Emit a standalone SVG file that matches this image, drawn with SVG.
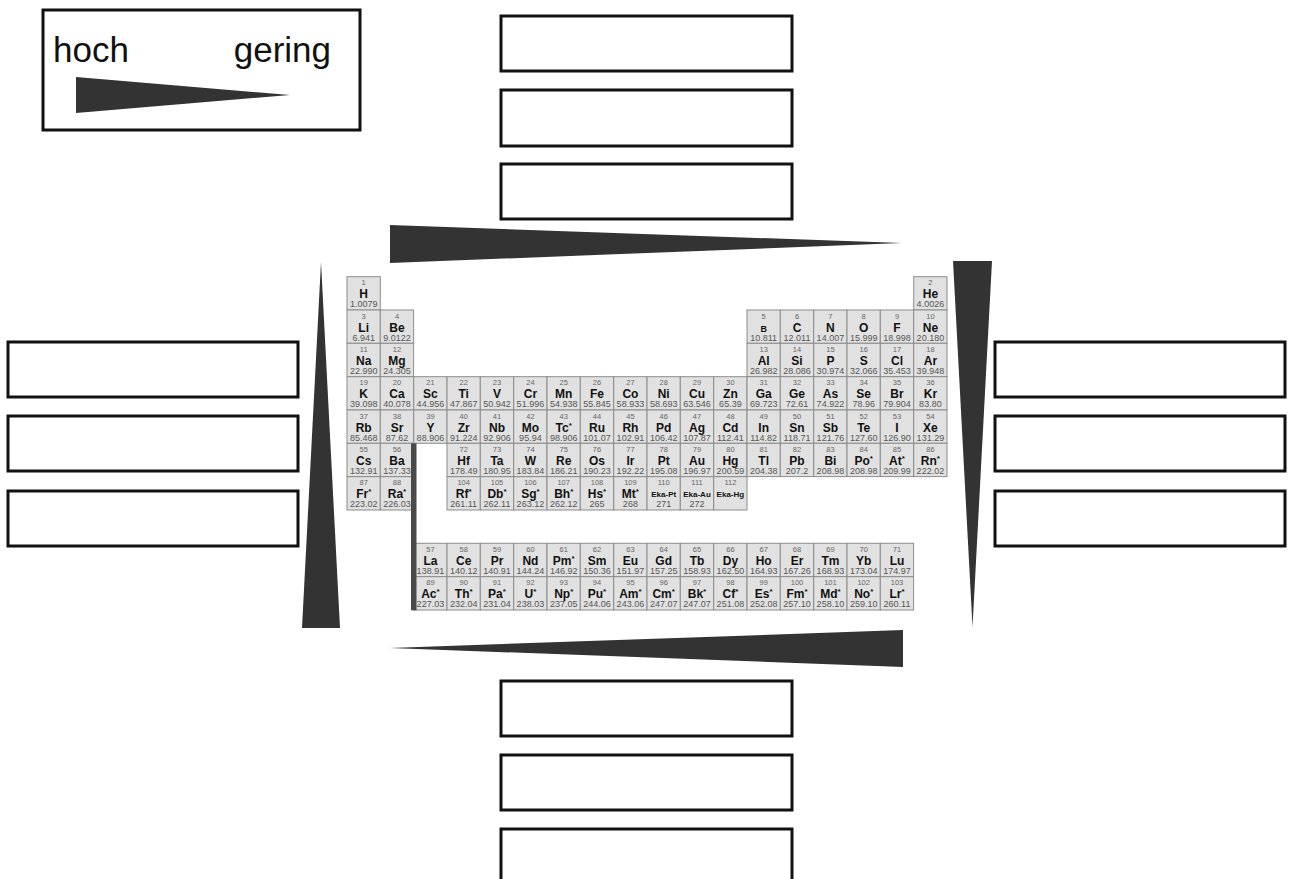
<svg xmlns="http://www.w3.org/2000/svg" width="1294" height="879" viewBox="0 0 1294 879">
<style>
.box{fill:#fff;stroke:#111;stroke-width:3}
.tri{fill:#333}
.lbl{font-family:"Liberation Sans",Arial,sans-serif;font-size:35px;fill:#111}
.c{fill:#e1e1e1;stroke:#8c8c8c;stroke-width:1}
.n{font-family:"Liberation Sans",Arial,sans-serif;font-size:7.5px;fill:#666;text-anchor:middle}
.s{font-family:"Liberation Sans",Arial,sans-serif;font-size:12px;font-weight:bold;fill:#111;text-anchor:middle}
.e{font-family:"Liberation Sans",Arial,sans-serif;font-size:8px;font-weight:bold;fill:#111;text-anchor:middle}
.m{font-family:"Liberation Sans",Arial,sans-serif;font-size:9px;fill:#555;text-anchor:middle}
.st{font-size:8px}
</style>
<defs>
<rect id="cell" class="c" width="33.3" height="33.3"/>
</defs>
<rect width="1294" height="879" fill="#fff"/>

<g id="legend">
<rect class="box" x="43" y="10" width="317" height="120"/>
<text class="lbl" x="53" y="62">hoch</text>
<text class="lbl" x="331" y="62" text-anchor="end">gering</text>
<polygon class="tri" points="76,77 76,113 290,95"/>
</g>

<g id="boxes-top">
<rect class="box" x="501" y="16" width="291" height="55"/>
<rect class="box" x="501" y="90" width="291" height="56"/>
<rect class="box" x="501" y="164" width="291" height="55"/>
</g>
<g id="boxes-bottom">
<rect class="box" x="501" y="681" width="291" height="55"/>
<rect class="box" x="501" y="755" width="291" height="55"/>
<rect class="box" x="501" y="829" width="291" height="60"/>
</g>
<g id="boxes-left">
<rect class="box" x="8" y="342" width="290" height="55"/>
<rect class="box" x="8" y="416" width="290" height="55"/>
<rect class="box" x="8" y="491" width="290" height="55"/>
</g>
<g id="boxes-right">
<rect class="box" x="995" y="342" width="290" height="55"/>
<rect class="box" x="995" y="416" width="290" height="55"/>
<rect class="box" x="995" y="491" width="290" height="55"/>
</g>

<g id="trends">
<polygon class="tri" points="390,225 390,263 902,243"/>
<polygon class="tri" points="390,648 903,630 903,667"/>
<polygon class="tri" points="321,262 302,628 340,628"/>
<polygon class="tri" points="953,261 992,261 972.5,627"/>
</g>

<g id="periodic-table">
<!-- Row 1 -->
<g id="el-1" transform="translate(347,276.7)"><use href="#cell"/><text class="n" x="16.7" y="8.7">1</text><text class="s" x="16.7" y="21.5">H</text><text class="m" x="16.7" y="30.8">1.0079</text></g>
<g id="el-2" transform="translate(913.7,276.7)"><use href="#cell"/><text class="n" x="16.7" y="8.7">2</text><text class="s" x="16.7" y="21.5">He</text><text class="m" x="16.7" y="30.8">4.0026</text></g>
<!-- Row 2 -->
<g id="el-3" transform="translate(347,310)"><use href="#cell"/><text class="n" x="16.7" y="8.7">3</text><text class="s" x="16.7" y="21.5">Li</text><text class="m" x="16.7" y="30.8">6.941</text></g>
<g id="el-4" transform="translate(380.3,310)"><use href="#cell"/><text class="n" x="16.7" y="8.7">4</text><text class="s" x="16.7" y="21.5">Be</text><text class="m" x="16.7" y="30.8">9.0122</text></g>
<g id="el-5" transform="translate(747,310)"><use href="#cell"/><text class="n" x="16.7" y="8.7">5</text><text class="s" x="16.7" y="21.5" style="font-size:9px">B</text><text class="m" x="16.7" y="30.8">10.811</text></g>
<g id="el-6" transform="translate(780.3,310)"><use href="#cell"/><text class="n" x="16.7" y="8.7">6</text><text class="s" x="16.7" y="21.5">C</text><text class="m" x="16.7" y="30.8">12.011</text></g>
<g id="el-7" transform="translate(813.7,310)"><use href="#cell"/><text class="n" x="16.7" y="8.7">7</text><text class="s" x="16.7" y="21.5">N</text><text class="m" x="16.7" y="30.8">14.007</text></g>
<g id="el-8" transform="translate(847,310)"><use href="#cell"/><text class="n" x="16.7" y="8.7">8</text><text class="s" x="16.7" y="21.5">O</text><text class="m" x="16.7" y="30.8">15.999</text></g>
<g id="el-9" transform="translate(880.3,310)"><use href="#cell"/><text class="n" x="16.7" y="8.7">9</text><text class="s" x="16.7" y="21.5">F</text><text class="m" x="16.7" y="30.8">18.998</text></g>
<g id="el-10" transform="translate(913.7,310)"><use href="#cell"/><text class="n" x="16.7" y="8.7">10</text><text class="s" x="16.7" y="21.5">Ne</text><text class="m" x="16.7" y="30.8">20.180</text></g>
<!-- Row 3 -->
<g id="el-11" transform="translate(347,343.3)"><use href="#cell"/><text class="n" x="16.7" y="8.7">11</text><text class="s" x="16.7" y="21.5">Na</text><text class="m" x="16.7" y="30.8">22.990</text></g>
<g id="el-12" transform="translate(380.3,343.3)"><use href="#cell"/><text class="n" x="16.7" y="8.7">12</text><text class="s" x="16.7" y="21.5">Mg</text><text class="m" x="16.7" y="30.8">24.305</text></g>
<g id="el-13" transform="translate(747,343.3)"><use href="#cell"/><text class="n" x="16.7" y="8.7">13</text><text class="s" x="16.7" y="21.5">Al</text><text class="m" x="16.7" y="30.8">26.982</text></g>
<g id="el-14" transform="translate(780.3,343.3)"><use href="#cell"/><text class="n" x="16.7" y="8.7">14</text><text class="s" x="16.7" y="21.5">Si</text><text class="m" x="16.7" y="30.8">28.086</text></g>
<g id="el-15" transform="translate(813.7,343.3)"><use href="#cell"/><text class="n" x="16.7" y="8.7">15</text><text class="s" x="16.7" y="21.5">P</text><text class="m" x="16.7" y="30.8">30.974</text></g>
<g id="el-16" transform="translate(847,343.3)"><use href="#cell"/><text class="n" x="16.7" y="8.7">16</text><text class="s" x="16.7" y="21.5">S</text><text class="m" x="16.7" y="30.8">32.066</text></g>
<g id="el-17" transform="translate(880.3,343.3)"><use href="#cell"/><text class="n" x="16.7" y="8.7">17</text><text class="s" x="16.7" y="21.5">Cl</text><text class="m" x="16.7" y="30.8">35.453</text></g>
<g id="el-18" transform="translate(913.7,343.3)"><use href="#cell"/><text class="n" x="16.7" y="8.7">18</text><text class="s" x="16.7" y="21.5">Ar</text><text class="m" x="16.7" y="30.8">39.948</text></g>
<!-- Row 4 -->
<g id="el-19" transform="translate(347,376.7)"><use href="#cell"/><text class="n" x="16.7" y="8.7">19</text><text class="s" x="16.7" y="21.5">K</text><text class="m" x="16.7" y="30.8">39.098</text></g>
<g id="el-20" transform="translate(380.3,376.7)"><use href="#cell"/><text class="n" x="16.7" y="8.7">20</text><text class="s" x="16.7" y="21.5">Ca</text><text class="m" x="16.7" y="30.8">40.078</text></g>
<g id="el-21" transform="translate(413.7,376.7)"><use href="#cell"/><text class="n" x="16.7" y="8.7">21</text><text class="s" x="16.7" y="21.5">Sc</text><text class="m" x="16.7" y="30.8">44.956</text></g>
<g id="el-22" transform="translate(447,376.7)"><use href="#cell"/><text class="n" x="16.7" y="8.7">22</text><text class="s" x="16.7" y="21.5">Ti</text><text class="m" x="16.7" y="30.8">47.867</text></g>
<g id="el-23" transform="translate(480.3,376.7)"><use href="#cell"/><text class="n" x="16.7" y="8.7">23</text><text class="s" x="16.7" y="21.5">V</text><text class="m" x="16.7" y="30.8">50.942</text></g>
<g id="el-24" transform="translate(513.7,376.7)"><use href="#cell"/><text class="n" x="16.7" y="8.7">24</text><text class="s" x="16.7" y="21.5">Cr</text><text class="m" x="16.7" y="30.8">51.996</text></g>
<g id="el-25" transform="translate(547,376.7)"><use href="#cell"/><text class="n" x="16.7" y="8.7">25</text><text class="s" x="16.7" y="21.5">Mn</text><text class="m" x="16.7" y="30.8">54.938</text></g>
<g id="el-26" transform="translate(580.3,376.7)"><use href="#cell"/><text class="n" x="16.7" y="8.7">26</text><text class="s" x="16.7" y="21.5">Fe</text><text class="m" x="16.7" y="30.8">55.845</text></g>
<g id="el-27" transform="translate(613.7,376.7)"><use href="#cell"/><text class="n" x="16.7" y="8.7">27</text><text class="s" x="16.7" y="21.5">Co</text><text class="m" x="16.7" y="30.8">58.933</text></g>
<g id="el-28" transform="translate(647,376.7)"><use href="#cell"/><text class="n" x="16.7" y="8.7">28</text><text class="s" x="16.7" y="21.5">Ni</text><text class="m" x="16.7" y="30.8">58.693</text></g>
<g id="el-29" transform="translate(680.3,376.7)"><use href="#cell"/><text class="n" x="16.7" y="8.7">29</text><text class="s" x="16.7" y="21.5">Cu</text><text class="m" x="16.7" y="30.8">63.546</text></g>
<g id="el-30" transform="translate(713.7,376.7)"><use href="#cell"/><text class="n" x="16.7" y="8.7">30</text><text class="s" x="16.7" y="21.5">Zn</text><text class="m" x="16.7" y="30.8">65.39</text></g>
<g id="el-31" transform="translate(747,376.7)"><use href="#cell"/><text class="n" x="16.7" y="8.7">31</text><text class="s" x="16.7" y="21.5">Ga</text><text class="m" x="16.7" y="30.8">69.723</text></g>
<g id="el-32" transform="translate(780.3,376.7)"><use href="#cell"/><text class="n" x="16.7" y="8.7">32</text><text class="s" x="16.7" y="21.5">Ge</text><text class="m" x="16.7" y="30.8">72.61</text></g>
<g id="el-33" transform="translate(813.7,376.7)"><use href="#cell"/><text class="n" x="16.7" y="8.7">33</text><text class="s" x="16.7" y="21.5">As</text><text class="m" x="16.7" y="30.8">74.922</text></g>
<g id="el-34" transform="translate(847,376.7)"><use href="#cell"/><text class="n" x="16.7" y="8.7">34</text><text class="s" x="16.7" y="21.5">Se</text><text class="m" x="16.7" y="30.8">78.96</text></g>
<g id="el-35" transform="translate(880.3,376.7)"><use href="#cell"/><text class="n" x="16.7" y="8.7">35</text><text class="s" x="16.7" y="21.5">Br</text><text class="m" x="16.7" y="30.8">79.904</text></g>
<g id="el-36" transform="translate(913.7,376.7)"><use href="#cell"/><text class="n" x="16.7" y="8.7">36</text><text class="s" x="16.7" y="21.5">Kr</text><text class="m" x="16.7" y="30.8">83.80</text></g>
<!-- Row 5 -->
<g id="el-37" transform="translate(347,410)"><use href="#cell"/><text class="n" x="16.7" y="8.7">37</text><text class="s" x="16.7" y="21.5">Rb</text><text class="m" x="16.7" y="30.8">85.468</text></g>
<g id="el-38" transform="translate(380.3,410)"><use href="#cell"/><text class="n" x="16.7" y="8.7">38</text><text class="s" x="16.7" y="21.5">Sr</text><text class="m" x="16.7" y="30.8">87.62</text></g>
<g id="el-39" transform="translate(413.7,410)"><use href="#cell"/><text class="n" x="16.7" y="8.7">39</text><text class="s" x="16.7" y="21.5">Y</text><text class="m" x="16.7" y="30.8">88.906</text></g>
<g id="el-40" transform="translate(447,410)"><use href="#cell"/><text class="n" x="16.7" y="8.7">40</text><text class="s" x="16.7" y="21.5">Zr</text><text class="m" x="16.7" y="30.8">91.224</text></g>
<g id="el-41" transform="translate(480.3,410)"><use href="#cell"/><text class="n" x="16.7" y="8.7">41</text><text class="s" x="16.7" y="21.5">Nb</text><text class="m" x="16.7" y="30.8">92.906</text></g>
<g id="el-42" transform="translate(513.7,410)"><use href="#cell"/><text class="n" x="16.7" y="8.7">42</text><text class="s" x="16.7" y="21.5">Mo</text><text class="m" x="16.7" y="30.8">95.94</text></g>
<g id="el-43" transform="translate(547,410)"><use href="#cell"/><text class="n" x="16.7" y="8.7">43</text><text class="s" x="16.7" y="21.5">Tc<tspan class="st" dy="-4">*</tspan></text><text class="m" x="16.7" y="30.8">98.906</text></g>
<g id="el-44" transform="translate(580.3,410)"><use href="#cell"/><text class="n" x="16.7" y="8.7">44</text><text class="s" x="16.7" y="21.5">Ru</text><text class="m" x="16.7" y="30.8">101.07</text></g>
<g id="el-45" transform="translate(613.7,410)"><use href="#cell"/><text class="n" x="16.7" y="8.7">45</text><text class="s" x="16.7" y="21.5">Rh</text><text class="m" x="16.7" y="30.8">102.91</text></g>
<g id="el-46" transform="translate(647,410)"><use href="#cell"/><text class="n" x="16.7" y="8.7">46</text><text class="s" x="16.7" y="21.5">Pd</text><text class="m" x="16.7" y="30.8">106.42</text></g>
<g id="el-47" transform="translate(680.3,410)"><use href="#cell"/><text class="n" x="16.7" y="8.7">47</text><text class="s" x="16.7" y="21.5">Ag</text><text class="m" x="16.7" y="30.8">107.87</text></g>
<g id="el-48" transform="translate(713.7,410)"><use href="#cell"/><text class="n" x="16.7" y="8.7">48</text><text class="s" x="16.7" y="21.5">Cd</text><text class="m" x="16.7" y="30.8">112.41</text></g>
<g id="el-49" transform="translate(747,410)"><use href="#cell"/><text class="n" x="16.7" y="8.7">49</text><text class="s" x="16.7" y="21.5">In</text><text class="m" x="16.7" y="30.8">114.82</text></g>
<g id="el-50" transform="translate(780.3,410)"><use href="#cell"/><text class="n" x="16.7" y="8.7">50</text><text class="s" x="16.7" y="21.5">Sn</text><text class="m" x="16.7" y="30.8">118.71</text></g>
<g id="el-51" transform="translate(813.7,410)"><use href="#cell"/><text class="n" x="16.7" y="8.7">51</text><text class="s" x="16.7" y="21.5">Sb</text><text class="m" x="16.7" y="30.8">121.76</text></g>
<g id="el-52" transform="translate(847,410)"><use href="#cell"/><text class="n" x="16.7" y="8.7">52</text><text class="s" x="16.7" y="21.5">Te</text><text class="m" x="16.7" y="30.8">127.60</text></g>
<g id="el-53" transform="translate(880.3,410)"><use href="#cell"/><text class="n" x="16.7" y="8.7">53</text><text class="s" x="16.7" y="21.5">I</text><text class="m" x="16.7" y="30.8">126.90</text></g>
<g id="el-54" transform="translate(913.7,410)"><use href="#cell"/><text class="n" x="16.7" y="8.7">54</text><text class="s" x="16.7" y="21.5">Xe</text><text class="m" x="16.7" y="30.8">131.29</text></g>
<!-- Row 6 -->
<g id="el-55" transform="translate(347,443.3)"><use href="#cell"/><text class="n" x="16.7" y="8.7">55</text><text class="s" x="16.7" y="21.5">Cs</text><text class="m" x="16.7" y="30.8">132.91</text></g>
<g id="el-56" transform="translate(380.3,443.3)"><use href="#cell"/><text class="n" x="16.7" y="8.7">56</text><text class="s" x="16.7" y="21.5">Ba</text><text class="m" x="16.7" y="30.8">137.33</text></g>
<g id="el-72" transform="translate(447,443.3)"><use href="#cell"/><text class="n" x="16.7" y="8.7">72</text><text class="s" x="16.7" y="21.5">Hf</text><text class="m" x="16.7" y="30.8">178.49</text></g>
<g id="el-73" transform="translate(480.3,443.3)"><use href="#cell"/><text class="n" x="16.7" y="8.7">73</text><text class="s" x="16.7" y="21.5">Ta</text><text class="m" x="16.7" y="30.8">180.95</text></g>
<g id="el-74" transform="translate(513.7,443.3)"><use href="#cell"/><text class="n" x="16.7" y="8.7">74</text><text class="s" x="16.7" y="21.5">W</text><text class="m" x="16.7" y="30.8">183.84</text></g>
<g id="el-75" transform="translate(547,443.3)"><use href="#cell"/><text class="n" x="16.7" y="8.7">75</text><text class="s" x="16.7" y="21.5">Re</text><text class="m" x="16.7" y="30.8">186.21</text></g>
<g id="el-76" transform="translate(580.3,443.3)"><use href="#cell"/><text class="n" x="16.7" y="8.7">76</text><text class="s" x="16.7" y="21.5">Os</text><text class="m" x="16.7" y="30.8">190.23</text></g>
<g id="el-77" transform="translate(613.7,443.3)"><use href="#cell"/><text class="n" x="16.7" y="8.7">77</text><text class="s" x="16.7" y="21.5">Ir</text><text class="m" x="16.7" y="30.8">192.22</text></g>
<g id="el-78" transform="translate(647,443.3)"><use href="#cell"/><text class="n" x="16.7" y="8.7">78</text><text class="s" x="16.7" y="21.5">Pt</text><text class="m" x="16.7" y="30.8">195.08</text></g>
<g id="el-79" transform="translate(680.3,443.3)"><use href="#cell"/><text class="n" x="16.7" y="8.7">79</text><text class="s" x="16.7" y="21.5">Au</text><text class="m" x="16.7" y="30.8">196.97</text></g>
<g id="el-80" transform="translate(713.7,443.3)"><use href="#cell"/><text class="n" x="16.7" y="8.7">80</text><text class="s" x="16.7" y="21.5">Hg</text><text class="m" x="16.7" y="30.8">200.59</text></g>
<g id="el-81" transform="translate(747,443.3)"><use href="#cell"/><text class="n" x="16.7" y="8.7">81</text><text class="s" x="16.7" y="21.5">Tl</text><text class="m" x="16.7" y="30.8">204.38</text></g>
<g id="el-82" transform="translate(780.3,443.3)"><use href="#cell"/><text class="n" x="16.7" y="8.7">82</text><text class="s" x="16.7" y="21.5">Pb</text><text class="m" x="16.7" y="30.8">207.2</text></g>
<g id="el-83" transform="translate(813.7,443.3)"><use href="#cell"/><text class="n" x="16.7" y="8.7">83</text><text class="s" x="16.7" y="21.5">Bi</text><text class="m" x="16.7" y="30.8">208.98</text></g>
<g id="el-84" transform="translate(847,443.3)"><use href="#cell"/><text class="n" x="16.7" y="8.7">84</text><text class="s" x="16.7" y="21.5">Po<tspan class="st" dy="-4">*</tspan></text><text class="m" x="16.7" y="30.8">208.98</text></g>
<g id="el-85" transform="translate(880.3,443.3)"><use href="#cell"/><text class="n" x="16.7" y="8.7">85</text><text class="s" x="16.7" y="21.5">At<tspan class="st" dy="-4">*</tspan></text><text class="m" x="16.7" y="30.8">209.99</text></g>
<g id="el-86" transform="translate(913.7,443.3)"><use href="#cell"/><text class="n" x="16.7" y="8.7">86</text><text class="s" x="16.7" y="21.5">Rn<tspan class="st" dy="-4">*</tspan></text><text class="m" x="16.7" y="30.8">222.02</text></g>
<!-- Row 7 -->
<g id="el-87" transform="translate(347,476.7)"><use href="#cell"/><text class="n" x="16.7" y="8.7">87</text><text class="s" x="16.7" y="21.5">Fr<tspan class="st" dy="-4">*</tspan></text><text class="m" x="16.7" y="30.8">223.02</text></g>
<g id="el-88" transform="translate(380.3,476.7)"><use href="#cell"/><text class="n" x="16.7" y="8.7">88</text><text class="s" x="16.7" y="21.5">Ra<tspan class="st" dy="-4">*</tspan></text><text class="m" x="16.7" y="30.8">226.03</text></g>
<g id="el-104" transform="translate(447,476.7)"><use href="#cell"/><text class="n" x="16.7" y="8.7">104</text><text class="s" x="16.7" y="21.5">Rf<tspan class="st" dy="-4">*</tspan></text><text class="m" x="16.7" y="30.8">261.11</text></g>
<g id="el-105" transform="translate(480.3,476.7)"><use href="#cell"/><text class="n" x="16.7" y="8.7">105</text><text class="s" x="16.7" y="21.5">Db<tspan class="st" dy="-4">*</tspan></text><text class="m" x="16.7" y="30.8">262.11</text></g>
<g id="el-106" transform="translate(513.7,476.7)"><use href="#cell"/><text class="n" x="16.7" y="8.7">106</text><text class="s" x="16.7" y="21.5">Sg<tspan class="st" dy="-4">*</tspan></text><text class="m" x="16.7" y="30.8">263.12</text></g>
<g id="el-107" transform="translate(547,476.7)"><use href="#cell"/><text class="n" x="16.7" y="8.7">107</text><text class="s" x="16.7" y="21.5">Bh<tspan class="st" dy="-4">*</tspan></text><text class="m" x="16.7" y="30.8">262.12</text></g>
<g id="el-108" transform="translate(580.3,476.7)"><use href="#cell"/><text class="n" x="16.7" y="8.7">108</text><text class="s" x="16.7" y="21.5">Hs<tspan class="st" dy="-4">*</tspan></text><text class="m" x="16.7" y="30.8">265</text></g>
<g id="el-109" transform="translate(613.7,476.7)"><use href="#cell"/><text class="n" x="16.7" y="8.7">109</text><text class="s" x="16.7" y="21.5">Mt<tspan class="st" dy="-4">*</tspan></text><text class="m" x="16.7" y="30.8">268</text></g>
<g id="el-110" transform="translate(647,476.7)"><use href="#cell"/><text class="n" x="16.7" y="8.7">110</text><text class="e" x="16.7" y="20.5">Eka-Pt</text><text class="m" x="16.7" y="30.8">271</text></g>
<g id="el-111" transform="translate(680.3,476.7)"><use href="#cell"/><text class="n" x="16.7" y="8.7">111</text><text class="e" x="16.7" y="20.5">Eka-Au</text><text class="m" x="16.7" y="30.8">272</text></g>
<g id="el-112" transform="translate(713.7,476.7)"><use href="#cell"/><text class="n" x="16.7" y="8.7">112</text><text class="e" x="16.7" y="20.5">Eka-Hg</text></g>
<!-- Lanthanides -->
<g id="el-57" transform="translate(413.7,543.3)"><use href="#cell"/><text class="n" x="16.7" y="8.7">57</text><text class="s" x="16.7" y="21.5">La</text><text class="m" x="16.7" y="30.8">138.91</text></g>
<g id="el-58" transform="translate(447,543.3)"><use href="#cell"/><text class="n" x="16.7" y="8.7">58</text><text class="s" x="16.7" y="21.5">Ce</text><text class="m" x="16.7" y="30.8">140.12</text></g>
<g id="el-59" transform="translate(480.3,543.3)"><use href="#cell"/><text class="n" x="16.7" y="8.7">59</text><text class="s" x="16.7" y="21.5">Pr</text><text class="m" x="16.7" y="30.8">140.91</text></g>
<g id="el-60" transform="translate(513.7,543.3)"><use href="#cell"/><text class="n" x="16.7" y="8.7">60</text><text class="s" x="16.7" y="21.5">Nd</text><text class="m" x="16.7" y="30.8">144.24</text></g>
<g id="el-61" transform="translate(547,543.3)"><use href="#cell"/><text class="n" x="16.7" y="8.7">61</text><text class="s" x="16.7" y="21.5">Pm<tspan class="st" dy="-4">*</tspan></text><text class="m" x="16.7" y="30.8">146.92</text></g>
<g id="el-62" transform="translate(580.3,543.3)"><use href="#cell"/><text class="n" x="16.7" y="8.7">62</text><text class="s" x="16.7" y="21.5">Sm</text><text class="m" x="16.7" y="30.8">150.36</text></g>
<g id="el-63" transform="translate(613.7,543.3)"><use href="#cell"/><text class="n" x="16.7" y="8.7">63</text><text class="s" x="16.7" y="21.5">Eu</text><text class="m" x="16.7" y="30.8">151.97</text></g>
<g id="el-64" transform="translate(647,543.3)"><use href="#cell"/><text class="n" x="16.7" y="8.7">64</text><text class="s" x="16.7" y="21.5">Gd</text><text class="m" x="16.7" y="30.8">157.25</text></g>
<g id="el-65" transform="translate(680.3,543.3)"><use href="#cell"/><text class="n" x="16.7" y="8.7">65</text><text class="s" x="16.7" y="21.5">Tb</text><text class="m" x="16.7" y="30.8">158.93</text></g>
<g id="el-66" transform="translate(713.7,543.3)"><use href="#cell"/><text class="n" x="16.7" y="8.7">66</text><text class="s" x="16.7" y="21.5">Dy</text><text class="m" x="16.7" y="30.8">162.50</text></g>
<g id="el-67" transform="translate(747,543.3)"><use href="#cell"/><text class="n" x="16.7" y="8.7">67</text><text class="s" x="16.7" y="21.5">Ho</text><text class="m" x="16.7" y="30.8">164.93</text></g>
<g id="el-68" transform="translate(780.3,543.3)"><use href="#cell"/><text class="n" x="16.7" y="8.7">68</text><text class="s" x="16.7" y="21.5">Er</text><text class="m" x="16.7" y="30.8">167.26</text></g>
<g id="el-69" transform="translate(813.7,543.3)"><use href="#cell"/><text class="n" x="16.7" y="8.7">69</text><text class="s" x="16.7" y="21.5">Tm</text><text class="m" x="16.7" y="30.8">168.93</text></g>
<g id="el-70" transform="translate(847,543.3)"><use href="#cell"/><text class="n" x="16.7" y="8.7">70</text><text class="s" x="16.7" y="21.5">Yb</text><text class="m" x="16.7" y="30.8">173.04</text></g>
<g id="el-71" transform="translate(880.3,543.3)"><use href="#cell"/><text class="n" x="16.7" y="8.7">71</text><text class="s" x="16.7" y="21.5">Lu</text><text class="m" x="16.7" y="30.8">174.97</text></g>
<!-- Actinides -->
<g id="el-89" transform="translate(413.7,576.7)"><use href="#cell"/><text class="n" x="16.7" y="8.7">89</text><text class="s" x="16.7" y="21.5">Ac<tspan class="st" dy="-4">*</tspan></text><text class="m" x="16.7" y="30.8">227.03</text></g>
<g id="el-90" transform="translate(447,576.7)"><use href="#cell"/><text class="n" x="16.7" y="8.7">90</text><text class="s" x="16.7" y="21.5">Th<tspan class="st" dy="-4">*</tspan></text><text class="m" x="16.7" y="30.8">232.04</text></g>
<g id="el-91" transform="translate(480.3,576.7)"><use href="#cell"/><text class="n" x="16.7" y="8.7">91</text><text class="s" x="16.7" y="21.5">Pa<tspan class="st" dy="-4">*</tspan></text><text class="m" x="16.7" y="30.8">231.04</text></g>
<g id="el-92" transform="translate(513.7,576.7)"><use href="#cell"/><text class="n" x="16.7" y="8.7">92</text><text class="s" x="16.7" y="21.5">U<tspan class="st" dy="-4">*</tspan></text><text class="m" x="16.7" y="30.8">238.03</text></g>
<g id="el-93" transform="translate(547,576.7)"><use href="#cell"/><text class="n" x="16.7" y="8.7">93</text><text class="s" x="16.7" y="21.5">Np<tspan class="st" dy="-4">*</tspan></text><text class="m" x="16.7" y="30.8">237.05</text></g>
<g id="el-94" transform="translate(580.3,576.7)"><use href="#cell"/><text class="n" x="16.7" y="8.7">94</text><text class="s" x="16.7" y="21.5">Pu<tspan class="st" dy="-4">*</tspan></text><text class="m" x="16.7" y="30.8">244.06</text></g>
<g id="el-95" transform="translate(613.7,576.7)"><use href="#cell"/><text class="n" x="16.7" y="8.7">95</text><text class="s" x="16.7" y="21.5">Am<tspan class="st" dy="-4">*</tspan></text><text class="m" x="16.7" y="30.8">243.06</text></g>
<g id="el-96" transform="translate(647,576.7)"><use href="#cell"/><text class="n" x="16.7" y="8.7">96</text><text class="s" x="16.7" y="21.5">Cm<tspan class="st" dy="-4">*</tspan></text><text class="m" x="16.7" y="30.8">247.07</text></g>
<g id="el-97" transform="translate(680.3,576.7)"><use href="#cell"/><text class="n" x="16.7" y="8.7">97</text><text class="s" x="16.7" y="21.5">Bk<tspan class="st" dy="-4">*</tspan></text><text class="m" x="16.7" y="30.8">247.07</text></g>
<g id="el-98" transform="translate(713.7,576.7)"><use href="#cell"/><text class="n" x="16.7" y="8.7">98</text><text class="s" x="16.7" y="21.5">Cf<tspan class="st" dy="-4">*</tspan></text><text class="m" x="16.7" y="30.8">251.08</text></g>
<g id="el-99" transform="translate(747,576.7)"><use href="#cell"/><text class="n" x="16.7" y="8.7">99</text><text class="s" x="16.7" y="21.5">Es<tspan class="st" dy="-4">*</tspan></text><text class="m" x="16.7" y="30.8">252.08</text></g>
<g id="el-100" transform="translate(780.3,576.7)"><use href="#cell"/><text class="n" x="16.7" y="8.7">100</text><text class="s" x="16.7" y="21.5">Fm<tspan class="st" dy="-4">*</tspan></text><text class="m" x="16.7" y="30.8">257.10</text></g>
<g id="el-101" transform="translate(813.7,576.7)"><use href="#cell"/><text class="n" x="16.7" y="8.7">101</text><text class="s" x="16.7" y="21.5">Md<tspan class="st" dy="-4">*</tspan></text><text class="m" x="16.7" y="30.8">258.10</text></g>
<g id="el-102" transform="translate(847,576.7)"><use href="#cell"/><text class="n" x="16.7" y="8.7">102</text><text class="s" x="16.7" y="21.5">No<tspan class="st" dy="-4">*</tspan></text><text class="m" x="16.7" y="30.8">259.10</text></g>
<g id="el-103" transform="translate(880.3,576.7)"><use href="#cell"/><text class="n" x="16.7" y="8.7">103</text><text class="s" x="16.7" y="21.5">Lr<tspan class="st" dy="-4">*</tspan></text><text class="m" x="16.7" y="30.8">260.11</text></g>
<rect id="f-block-bar" x="411" y="443.3" width="5.5" height="167" fill="#4a4a4a"/>
</g>
</svg>
